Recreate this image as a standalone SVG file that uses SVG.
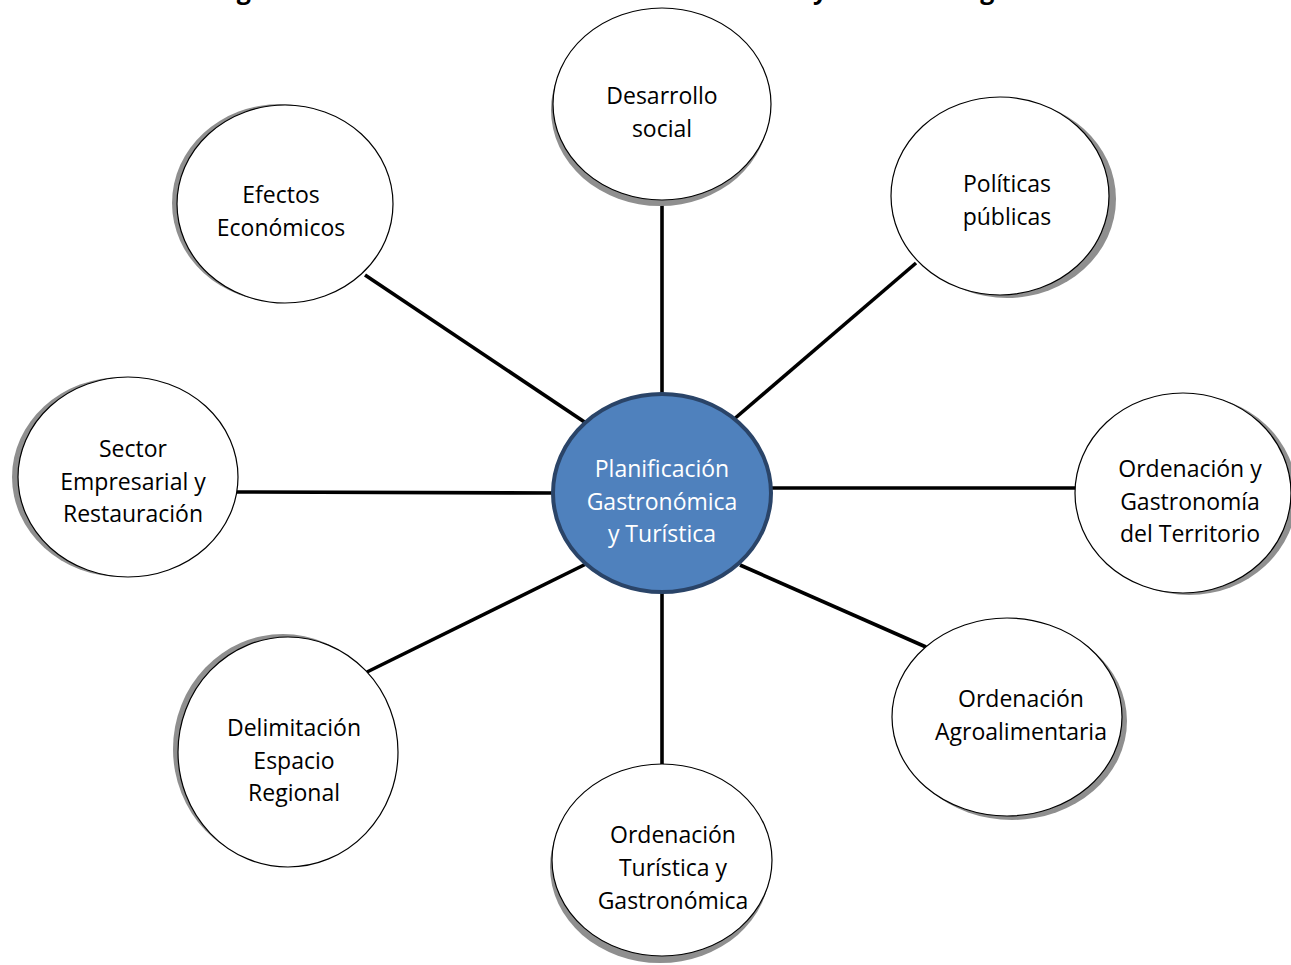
<svg xmlns="http://www.w3.org/2000/svg" width="1291" height="965" viewBox="0 0 1291 965">
<style>
  .bg { fill: #ffffff; }
  .shadow { fill: #8f8f8f; }
  .node { fill: #ffffff; stroke: #000000; stroke-width: 1.2; }
  .hub { fill: #4f81bd; stroke: #2a4468; stroke-width: 4; }
  .lbl { font-family: "Open Sans", "Liberation Sans", sans-serif; font-size: 23px; fill: #000000; text-anchor: middle; }
  .hubl { font-family: "Open Sans", "Liberation Sans", sans-serif; font-size: 23px; fill: #ffffff; text-anchor: middle; }
  .title { font-family: "Open Sans", "Liberation Sans", sans-serif; font-size: 25px; font-weight: bold; fill: #000000; text-anchor: middle; }
  .conn { stroke: #000000; stroke-width: 3.6; fill: none; }
</style>
<rect class="bg" x="0" y="0" width="1291" height="965"/>
<text class="title" x="636" y="-1">Figura 1. Modelo de Planificación Gastronómica y Turística Regional</text>

<g id="connectors">
  <line class="conn" x1="662" y1="200" x2="662" y2="395"/>
  <line class="conn" x1="916" y1="263" x2="733" y2="420"/>
  <line class="conn" x1="365" y1="275" x2="586" y2="423"/>
  <line class="conn" x1="237" y1="492" x2="554" y2="493"/>
  <line class="conn" x1="771" y1="488" x2="1076" y2="488"/>
  <line class="conn" x1="740" y1="565" x2="926" y2="647"/>
  <line class="conn" x1="367" y1="672" x2="586" y2="564"/>
  <line class="conn" x1="662" y1="591" x2="662" y2="770"/>
</g>

<g id="desarrollo-social">
  <ellipse class="shadow" cx="660" cy="110" rx="109" ry="96"/>
  <ellipse class="node" cx="662" cy="104" rx="109" ry="96"/>
  <text class="lbl" x="662" y="104">Desarrollo</text>
  <text class="lbl" x="662" y="137">social</text>
</g>

<g id="politicas-publicas">
  <ellipse class="shadow" cx="1007" cy="199" rx="109" ry="99"/>
  <ellipse class="node" cx="1000" cy="196" rx="109" ry="99"/>
  <text class="lbl" x="1007" y="192">Políticas</text>
  <text class="lbl" x="1007" y="225">públicas</text>
</g>

<g id="efectos-economicos">
  <ellipse class="shadow" cx="280" cy="203" rx="108" ry="99"/>
  <ellipse class="node" cx="285" cy="204" rx="108" ry="99"/>
  <text class="lbl" x="281" y="203">Efectos</text>
  <text class="lbl" x="281" y="236">Económicos</text>
</g>

<g id="sector-empresarial">
  <ellipse class="shadow" cx="122" cy="477" rx="110" ry="100"/>
  <ellipse class="node" cx="128" cy="477" rx="110" ry="100"/>
  <text class="lbl" x="133" y="457">Sector</text>
  <text class="lbl" x="133" y="490">Empresarial y</text>
  <text class="lbl" x="133" y="522">Restauración</text>
</g>

<g id="ordenacion-gastronomia-territorio">
  <ellipse class="shadow" cx="1189" cy="495" rx="108" ry="100"/>
  <ellipse class="node" cx="1183" cy="493" rx="108" ry="100"/>
  <text class="lbl" x="1190" y="477">Ordenación y</text>
  <text class="lbl" x="1190" y="510">Gastronomía</text>
  <text class="lbl" x="1190" y="542">del Territorio</text>
</g>

<g id="ordenacion-agroalimentaria">
  <ellipse class="shadow" cx="1012" cy="721" rx="115" ry="99"/>
  <ellipse class="node" cx="1007" cy="717" rx="115" ry="99"/>
  <text class="lbl" x="1021" y="707">Ordenación</text>
  <text class="lbl" x="1021" y="740">Agroalimentaria</text>
</g>

<g id="delimitacion-espacio-regional">
  <ellipse class="shadow" cx="283" cy="749" rx="110" ry="115"/>
  <ellipse class="node" cx="288" cy="752" rx="110" ry="115"/>
  <text class="lbl" x="294" y="736">Delimitación</text>
  <text class="lbl" x="294" y="769">Espacio</text>
  <text class="lbl" x="294" y="801">Regional</text>
</g>

<g id="ordenacion-turistica-gastronomica">
  <ellipse class="shadow" cx="660" cy="867" rx="110" ry="96"/>
  <ellipse class="node" cx="662" cy="860" rx="110" ry="96"/>
  <text class="lbl" x="673" y="843">Ordenación</text>
  <text class="lbl" x="673" y="876">Turística y</text>
  <text class="lbl" x="673" y="909">Gastronómica</text>
</g>

<g id="planificacion-gastronomica-turistica">
  <ellipse class="hub" cx="662" cy="493" rx="109" ry="99"/>
  <text class="hubl" x="662" y="477">Planificación</text>
  <text class="hubl" x="662" y="510">Gastronómica</text>
  <text class="hubl" x="662" y="542">y Turística</text>
</g>
</svg>
